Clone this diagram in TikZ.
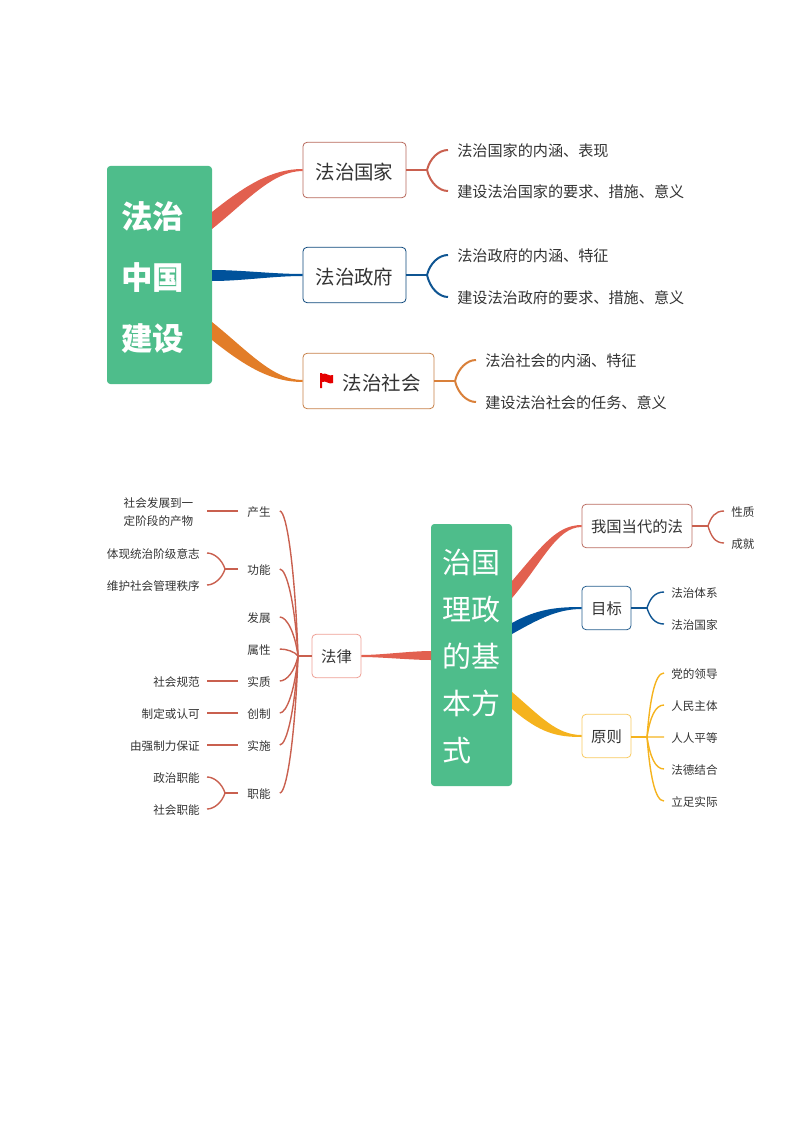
\documentclass[tikz,border=0pt]{standalone}
\usepackage{fontspec}
\setmainfont{Noto Sans CJK SC}
\usetikzlibrary{calc}
\definecolor{rootgreen}{HTML}{4EBD8B}
\definecolor{inkgray}{HTML}{333333}
\definecolor{mapred}{HTML}{E2604F}
\definecolor{mapblue}{HTML}{00529B}
\definecolor{maporange}{HTML}{E27D28}
\definecolor{mapyellow}{HTML}{F5B31E}
\definecolor{linered}{HTML}{C9604F}
\definecolor{lineblue}{HTML}{0F5592}
\definecolor{lineorange}{HTML}{D9803A}
\tikzset{
  rootbox/.style={fill=rootgreen,rounded corners=2.5pt,text=white,align=left,inner ysep=0pt},
  topicbox/.style={draw=#1,fill=white,rounded corners=3pt,line width=0.6pt,text=inkgray,inner sep=0pt},
  bigtopic/.style={font=\fontsize{14.6pt}{18pt}\selectfont,minimum height=41.5pt,text height=15.4pt,text depth=0.8pt},
  midtopic/.style={font=\fontsize{11.5pt}{14pt}\selectfont,minimum height=32.5pt,text height=11.5pt,text depth=1.2pt},
  leaftext/.style={text=inkgray,font=\fontsize{11.35pt}{14pt}\selectfont,anchor=west,inner xsep=6.75pt,inner ysep=0pt,text height=11pt,text depth=0.9pt},
  twolines/.style={text=inkgray,font=\fontsize{8.7pt}{13.5pt}\selectfont,inner xsep=5.25pt,inner ysep=0pt},
  smalltext/.style={twolines,text height=8.8pt,text depth=1pt},
  biglink/.style={line width=1.5pt,#1},
  smalllink/.style={line width=1.05pt,#1}
}
% tapered branch: colour, upper start, lower start, end, start bend, end bend
\newcommand{\taperlink}[6]{\fill[#1] (#2) .. controls +(#5) and +(#6) .. ($(#4)+(0,-1)$) -- ($(#4)+(0,1)$) .. controls +(#6) and +(#5) .. (#3) -- cycle;}
% fans from a junction to a list of nodes
\newcommand{\fanright}[3]{\foreach \n in {#3} \draw[#1] (#2) .. controls ($(#2)!.6!(#2 |- \n.west)+(3,0)$) and +(-9,0) .. (\n.west);}
\newcommand{\fanleft}[3]{\foreach \n in {#3} \draw[#1] (#2) .. controls ($(#2)!.6!(#2 |- \n.east)+(-3,0)$) and +(7,0) .. (\n.east);}
\begin{document}
\begin{tikzpicture}[x=0.75pt,y=-0.75pt]
\useasboundingbox (0,0) rectangle (794,1123);

%first map
\node[rootbox,inner xsep=10.5pt,text width=57.75pt,minimum height=163.5pt,
      font=\fontsize{23.6pt}{45.75pt}\bfseries\selectfont] (rule) at (159.5,275) {\rule{0pt}{23.5pt}法治\\中国\\建设};
\node[topicbox=linered!75!gray,bigtopic,minimum width=77.25pt] (nation) at (354.5,170) {法治国家};
\node[topicbox=lineblue!85!black,bigtopic,minimum width=77.25pt] (gov) at (354.5,275) {法治政府};
\node[topicbox=lineorange!80!gray,bigtopic,minimum width=98.25pt] (society) at (368.5,381) {\hspace{20pt}法治社会};
\fill[red!90!black] (320,373) rectangle (322,388)
  (322,374) .. controls (326,372) and (329,377) .. (333,375) -- (333,383) .. controls (329,385) and (326,380) .. (322,382) -- cycle;

\node[leaftext] (nationa) at (448,150) {法治国家的内涵、表现};
\node[leaftext] (nationb) at (448,191) {建设法治国家的要求、措施、意义};
\node[leaftext] (gova) at (448,255) {法治政府的内涵、特征};
\node[leaftext] (govb) at (448,297) {建设法治政府的要求、措施、意义};
\node[leaftext] (societya) at (476,360) {法治社会的内涵、特征};
\node[leaftext] (societyb) at (476,402) {建设法治社会的任务、意义};

\coordinate (ruleAa) at (212,212);
\coordinate (ruleAb) at (212,229);
\coordinate (ruleBa) at (212,270);
\coordinate (ruleBb) at (212,281);
\coordinate (ruleCa) at (212,322);
\coordinate (ruleCb) at (212,340);
\taperlink{mapred}{ruleAa}{ruleAb}{nation.west}{35,-28}{-30,0}
\taperlink{mapblue}{ruleBa}{ruleBb}{gov.west}{30,0}{-30,0}
\taperlink{maporange}{ruleCa}{ruleCb}{society.west}{35,28}{-30,0}

\coordinate (nationj) at (427,170);
\coordinate (govj) at (427,275);
\coordinate (societyj) at (455,381);
\draw[biglink=linered] (nation.east) -- (nationj);
\draw[biglink=lineblue] (gov.east) -- (govj);
\draw[biglink=lineorange] (society.east) -- (societyj);
\fanright{biglink=linered}{nationj}{nationa,nationb}
\fanright{biglink=lineblue}{govj}{gova,govb}
\fanright{biglink=lineorange}{societyj}{societya,societyb}

%second map
\node[rootbox,inner xsep=8.25pt,text width=44.25pt,minimum height=196.5pt,
      font=\fontsize{21.75pt}{35.25pt}\selectfont] (govern) at (471.5,655) {\rule{0pt}{20.5pt}治国\\理政\\的基\\本方\\式};
\node[topicbox=mapred!60!gray,midtopic,minimum width=82.5pt] (ourlaw) at (637,526) {我国当代的法};
\node[topicbox=lineblue!80!gray,midtopic,minimum width=36.75pt] (goal) at (606.5,608) {目标};
\node[topicbox=mapyellow!70!white,midtopic,minimum width=36.75pt] (principle) at (606.5,736) {原则};
\node[topicbox=mapred!60!white,midtopic,minimum width=36.75pt] (law) at (336.5,656) {法律};

\coordinate (governAa) at (512,581);
\coordinate (governAb) at (512,598);
\coordinate (governBa) at (512,623);
\coordinate (governBb) at (512,634);
\coordinate (governCa) at (512,692);
\coordinate (governCb) at (512,709);
\coordinate (governDa) at (431,651);
\coordinate (governDb) at (431,660);
\taperlink{mapred}{governAa}{governAb}{ourlaw.west}{30,-35}{-25,0}
\taperlink{mapblue}{governBa}{governBb}{goal.west}{25,-14}{-25,0}
\taperlink{mapyellow}{governCa}{governCb}{principle.west}{28,24}{-25,0}
\taperlink{mapred}{governDa}{governDb}{law.east}{-20,0}{20,0}

%right leaves
\node[smalltext,anchor=west] (nature) at (724,511) {性质};
\node[smalltext,anchor=west] (result) at (724,543) {成就};
\node[smalltext,anchor=west] (system) at (664,592) {法治体系};
\node[smalltext,anchor=west] (country) at (664,624) {法治国家};
\node[smalltext,anchor=west] (party) at (664,673) {党的领导};
\node[smalltext,anchor=west] (people) at (664,705) {人民主体};
\node[smalltext,anchor=west] (equal) at (664,737) {人人平等};
\node[smalltext,anchor=west] (moral) at (664,769) {法德结合};
\node[smalltext,anchor=west] (fact) at (664,801) {立足实际};

\coordinate (ourlawj) at (708,526);
\coordinate (goalj) at (647,608);
\coordinate (principlej) at (647,737);
\draw[smalllink=linered] (ourlaw.east) -- (ourlawj);
\draw[smalllink=lineblue] (goal.east) -- (goalj);
\draw[smalllink=mapyellow] (principle.east |- principlej) -- (principlej);
\fanright{smalllink=linered}{ourlawj}{nature,result}
\fanright{smalllink=lineblue}{goalj}{system,country}
\fanright{smalllink=mapyellow}{principlej}{party,people,equal,moral,fact}

%left leaves
\foreach \n/\y/\t in {birth/511/产生,func/569/功能,grow/617/发展,attr/649/属性,
                      essence/681/实质,make/713/创制,apply/745/实施,duty/793/职能}
  \node[smalltext,minimum width=30.75pt,inner xsep=0pt] (\n) at (259,\y) {\t};

\node[twolines,anchor=east,text width=57pt,align=left] (product) at (207,512) {社会发展到一\\定阶段的产物};
\node[smalltext,anchor=east] (will) at (207,553) {体现统治阶级意志};
\node[smalltext,anchor=east] (order) at (207,585) {维护社会管理秩序};
\node[smalltext,anchor=east] (norm) at (207,681) {社会规范};
\node[smalltext,anchor=east] (enact) at (207,713) {制定或认可};
\node[smalltext,anchor=east] (force) at (207,745) {由强制力保证};
\node[smalltext,anchor=east] (politic) at (207,777) {政治职能};
\node[smalltext,anchor=east] (social) at (207,809) {社会职能};

\coordinate (lawj) at (298,656);
\coordinate (funcj) at (225,569);
\coordinate (dutyj) at (225,793);
\draw[smalllink=linered] (law.west) -- (lawj);
\fanleft{smalllink=linered}{lawj}{birth,func,grow,attr,essence,make,apply,duty}
\draw[smalllink=linered] (birth.west) -- (product.east |- birth.west);
\draw[smalllink=linered] (essence.west) -- (norm.east);
\draw[smalllink=linered] (make.west) -- (enact.east);
\draw[smalllink=linered] (apply.west) -- (force.east);
\draw[smalllink=linered] (func.west) -- (funcj);
\draw[smalllink=linered] (duty.west) -- (dutyj);
\fanleft{smalllink=linered}{funcj}{will,order}
\fanleft{smalllink=linered}{dutyj}{politic,social}
\end{tikzpicture}
\end{document}
